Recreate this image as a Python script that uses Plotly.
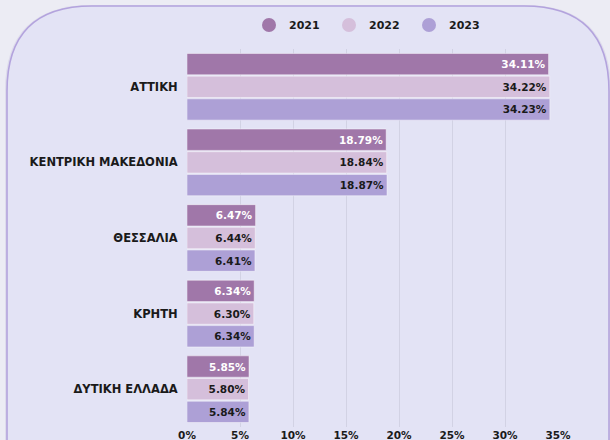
import plotly.graph_objects as go

regions = ["ΑΤΤΙΚΗ", "ΚΕΝΤΡΙΚΗ ΜΑΚΕΔΟΝΙΑ", "ΘΕΣΣΑΛΙΑ", "ΚΡΗΤΗ", "ΔΥΤΙΚΗ ΕΛΛΑΔΑ"]
years = ["2021", "2022", "2023"]
v2021 = [34.11, 18.79, 6.47, 6.34, 5.85]
v2022 = [34.22, 18.84, 6.44, 6.30, 5.80]
v2023 = [34.23, 18.87, 6.41, 6.34, 5.84]
tick_vals = [0, 5, 10, 15, 20, 25, 30, 35]
tick_text = ["0%", "5%", "10%", "15%", "20%", "25%", "30%", "35%"]

series = [v2021, v2022, v2023]
colors = ["#a077a9", "#d5bfdb", "#ada0d6"]
text_colors = ["#ffffff", "#1a1a1a", "#1a1a1a"]

W, H = 610, 440
L, R, T, B = 187, 52, 49, 13
pw, ph = W - L - R, H - T - B

def px(x):
    return (x - L) / pw

def py(y):
    return (H - B - y) / ph

FONT = "DejaVu Sans"

fig = go.Figure()
for name, vals, c, tc in zip(years, series, colors, text_colors):
    fig.add_trace(go.Bar(
        y=regions, x=vals, orientation="h", name=name,
        marker=dict(color=c, line=dict(color="rgba(255,255,255,0.45)", width=1)),
        texttemplate="%{x:.2f}%", textposition="inside", insidetextanchor="end",
        textfont=dict(color=tc, size=10.5, family=FONT, weight=700),
        constraintext="none", showlegend=False, hoverinfo="x+y",
    ))
for name, c in zip(years, colors):
    fig.add_trace(go.Scatter(
        x=[None], y=[None], mode="markers", name=name,
        marker=dict(color=c, size=14, symbol="circle"),
    ))

# panel path with rounded top corners
r = 85
x0, x1, y0, y1 = 7, 609, 6, 470
path = (
    f"M {px(x0)} {py(y1)} L {px(x0)} {py(y0 + r)} "
    f"Q {px(x0)} {py(y0)} {px(x0 + r)} {py(y0)} "
    f"L {px(x1 - r)} {py(y0)} "
    f"Q {px(x1)} {py(y0)} {px(x1)} {py(y0 + r)} "
    f"L {px(x1)} {py(y1)} Z"
)
shadow = (
    f"M {px(x0-2)} {py(y1)} L {px(x0-2)} {py(y0 + r)} "
    f"Q {px(x0-2)} {py(y0-1)} {px(x0 + r)} {py(y0-1)} "
    f"L {px(x1 - r)} {py(y0-1)} "
    f"Q {px(x1+2)} {py(y0-1)} {px(x1+2)} {py(y0 + r)} "
    f"L {px(x1+2)} {py(y1)} Z"
)
fig.add_shape(type="path", path=shadow, xref="paper", yref="paper",
              fillcolor="rgba(180,170,210,0.25)", line=dict(width=0), layer="below")
fig.add_shape(type="path", path=path, xref="paper", yref="paper",
              fillcolor="#e3e3f5", line=dict(color="#b3a3dd", width=1.6), layer="below")

fig.update_layout(
    width=W, height=H,
    margin=dict(l=L, r=R, t=T, b=B, autoexpand=False),
    paper_bgcolor="#ececf4", plot_bgcolor="rgba(0,0,0,0)",
    barmode="group", bargap=0.1, bargroupgap=0.06,
    font=dict(family=FONT, size=11, color="#1a1a1a", weight=700),
    legend=dict(orientation="h", x=px(369), xanchor="center", y=py(25), yanchor="middle",
                font=dict(size=11, family=FONT, weight=700), bgcolor="rgba(0,0,0,0)",
                entrywidth=35, entrywidthmode="pixels", itemclick=False),
    xaxis=dict(range=[0, 35], tickvals=tick_vals, ticktext=tick_text,
               showgrid=True, gridcolor="#d2d2e4", gridwidth=1, zeroline=False,
               tickfont=dict(size=10.5, family=FONT, weight=700), fixedrange=True,
               automargin=False),
    yaxis=dict(autorange="reversed", showgrid=False, ticks="outside", ticklen=6,
               tickcolor="rgba(0,0,0,0)", tickfont=dict(size=11.5, family=FONT, weight=700),
               fixedrange=True, automargin=False),
)

fig.write_html(
    "out.html",
    config={"displayModeBar": False},
    post_script="document.body.style.margin='0';document.body.style.padding='0';"
                "document.body.style.background='#ececf4';document.body.style.overflow='hidden';",
)
